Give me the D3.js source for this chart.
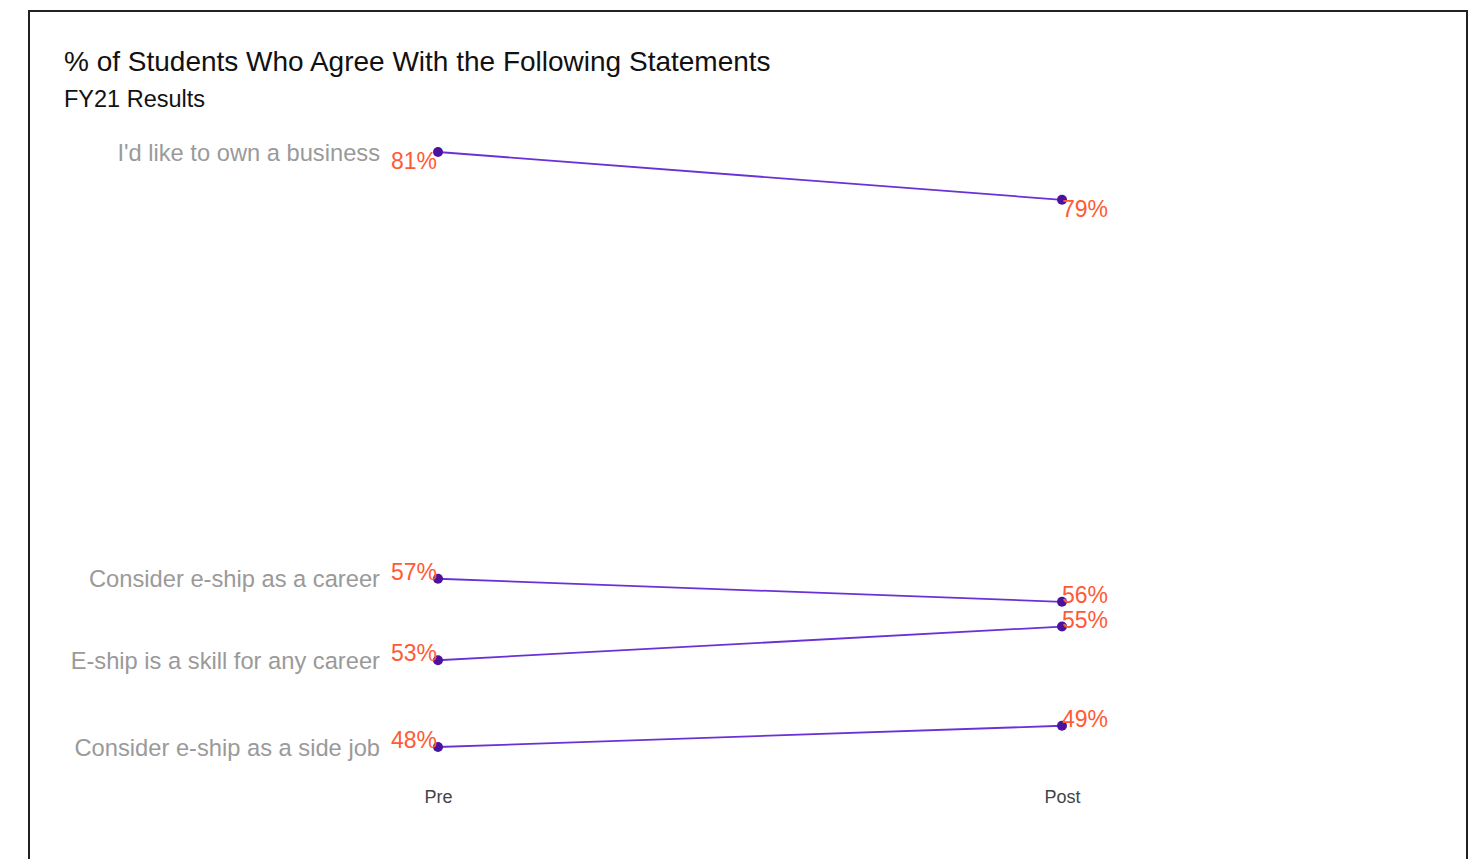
<!DOCTYPE html>
<html><head><meta charset="utf-8">
<script src="https://cdn.jsdelivr.net/npm/d3@7"></script>
<style>body{margin:0;background:#fff}svg{display:block}text{font-family:"Liberation Sans",Arial,sans-serif}</style>
</head><body>
<script>
const categories = ["I'd like to own a business","Consider e-ship as a career","E-ship is a skill for any career","Consider e-ship as a side job"];
const periods = ["Pre","Post"];
const preValues = [81.4, 57.3, 52.7, 47.8];
const postValues = [78.7, 56.0, 54.6, 49.0];
const title = "% of Students Who Agree With the Following Statements";
const subtitle = "FY21 Results";

const W = 1483, H = 859;
const svg = d3.select("body").append("svg").attr("width", W).attr("height", H);
svg.append("rect").attr("x",29).attr("y",11).attr("width",1438).attr("height",900)
  .attr("fill","#fff").attr("stroke","#222").attr("stroke-width",2);

svg.append("text").attr("x",64).attr("y",71).attr("font-size",28).attr("fill","#111").text(title);
svg.append("text").attr("x",64).attr("y",107).attr("font-size",23.5).attr("fill","#111").text(subtitle);

const rows = categories.map((c,i)=>({cat:c, vals:[preValues[i], postValues[i]]}));
const allVals = preValues.concat(postValues);
const x = d3.scalePoint().domain(periods).range([438,1062]);
const y = d3.scaleLinear().domain(d3.extent(allVals)).range([747,152]);
const overallMax = d3.max(allVals);

const xAxis = d3.axisBottom(x).tickSize(0).tickPadding(0);
const gx = svg.append("g").attr("transform","translate(0,790)").call(xAxis);
gx.select(".domain").remove();
gx.selectAll("text").attr("font-size",18).attr("fill","#444").attr("font-family","Liberation Sans, Arial, sans-serif");

const line = d3.line().x((d,i)=>x(periods[i])).y(d=>y(d));
const g = svg.append("g");
rows.forEach((r)=>{
  const top = d3.max(r.vals) === overallMax;
  g.append("path").attr("d", line(r.vals)).attr("fill","none").attr("stroke","#6a32d6").attr("stroke-width",1.8);
  r.vals.forEach((v,i)=>{
    g.append("circle").attr("cx",x(periods[i])).attr("cy",y(v)).attr("r",5).attr("fill","#4a129e");
    g.append("text").attr("x",x(periods[i]) + (i===0 ? -1 : 0)).attr("y",y(v))
      .attr("text-anchor", i===0 ? "end" : "start")
      .attr("dy", top ? "0.75em" : "0.05em")
      .attr("font-size",23).attr("fill","#ff5a36")
      .text(Math.round(v)+"%");
  });
  g.append("text").attr("x", 380).attr("y", y(r.vals[0])).attr("dy","0.36em")
    .attr("text-anchor","end").attr("font-size",23.7).attr("fill","#9a9a9a").text(r.cat);
});
</script>
</body></html>
